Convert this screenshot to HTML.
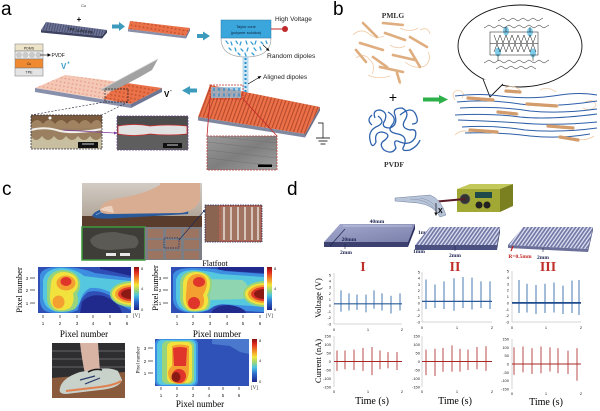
<!DOCTYPE html>
<html><head><meta charset="utf-8"><style>
html,body{margin:0;padding:0;background:#fff;}
svg{display:block;}
</style></head><body>
<svg width="600" height="411" viewBox="0 0 600 411" xmlns="http://www.w3.org/2000/svg" font-family="Liberation Sans, sans-serif">
<defs>
 <linearGradient id="cb" x1="0" y1="0" x2="0" y2="1">
  <stop offset="0" stop-color="#8a1010"/>
  <stop offset="0.12" stop-color="#e02a20"/>
  <stop offset="0.3" stop-color="#f39a2a"/>
  <stop offset="0.42" stop-color="#f4e63a"/>
  <stop offset="0.55" stop-color="#96d47c"/>
  <stop offset="0.66" stop-color="#4cc6e0"/>
  <stop offset="0.8" stop-color="#2f6fd0"/>
  <stop offset="1" stop-color="#1c2488"/>
 </linearGradient>
 <pattern id="ridgeO" width="3.6" height="10" patternUnits="userSpaceOnUse" patternTransform="rotate(20)">
  <rect width="3.6" height="10" fill="#ec7048"/>
  <rect width="1.1" height="10" fill="#b44a2c"/>
 </pattern>
 <pattern id="ridgeB" width="2.6" height="10" patternUnits="userSpaceOnUse" patternTransform="rotate(15)">
  <rect width="2.6" height="10" fill="#6c7396"/>
  <rect width="0.9" height="10" fill="#474d6c"/>
 </pattern>
 <pattern id="ridgeW" width="3" height="10" patternUnits="userSpaceOnUse" patternTransform="rotate(35)">
  <rect width="3" height="10" fill="#8e94bf"/>
  <rect width="0.9" height="10" fill="#eef0fa"/>
  <rect x="1.6" width="0.6" height="10" fill="#5a608a"/>
 </pattern>
 <pattern id="dotP" width="4" height="4" patternUnits="userSpaceOnUse" patternTransform="rotate(10)">
  <rect width="4" height="4" fill="#f5c8b6"/>
  <circle cx="2" cy="2" r="0.9" fill="#e6a08a"/>
 </pattern>
 <pattern id="dotO" width="4" height="4" patternUnits="userSpaceOnUse" patternTransform="rotate(10)">
  <rect width="4" height="4" fill="#ea7148"/>
  <circle cx="2" cy="2" r="0.9" fill="#c0502e"/>
 </pattern>
 <linearGradient id="slabI" x1="0" y1="0" x2="1" y2="1">
  <stop offset="0" stop-color="#a4a9cf"/><stop offset="1" stop-color="#7a80aa"/>
 </linearGradient>
 <linearGradient id="sem" x1="0" y1="0" x2="1" y2="1">
  <stop offset="0" stop-color="#9a9a9a"/><stop offset="0.5" stop-color="#7e7e7e"/><stop offset="1" stop-color="#a0a0a0"/>
 </linearGradient>
 <linearGradient id="wall" x1="0" y1="0" x2="0" y2="1">
  <stop offset="0" stop-color="#d2ccc4"/><stop offset="1" stop-color="#a89a8c"/>
 </linearGradient>
 <clipPath id="h1"><rect x="38" y="267" width="93" height="46"/></clipPath>
 <clipPath id="h2"><rect x="171" y="267" width="93" height="46"/></clipPath>
 <clipPath id="h3"><rect x="155" y="339" width="94" height="47"/></clipPath>
</defs>

<!-- ================= PANEL A ================= -->
<text x="1" y="15" font-size="19">a</text>
<text x="81" y="7" font-size="4" fill="#333">Cu</text>
<text x="79" y="22" font-size="8" font-weight="bold" text-anchor="middle">+</text>
<polygon points="46,22 107,30 102,36 41,30" fill="url(#ridgeB)"/>
<polygon points="41,30 102,36 102,38.5 41,32.5" fill="#3c4260"/>
<polygon points="102,36 107,30 107,32.5 102,38.5" fill="#2e334e"/>
<text x="80" y="32" font-size="4.2" fill="#111" text-anchor="middle" transform="rotate(7 80 32)">TPE substrate</text>
<polygon points="112,24.5 119,24.5 119,22 125,26.5 119,31 119,28.5 112,28.5" fill="#3c9bbd"/>
<polygon points="130,21 190,28 186,36 128,29" fill="url(#dotO)"/>
<polygon points="128,29 186,36 186,38.5 128,31.5" fill="#8a8fa8"/>
<polygon points="186,36 190,28 190,30.5 186,38.5" fill="#6f7590"/>
<polygon points="197,34 203,34 203,31.5 210,36 203,40.5 203,38 197,38" fill="#3c9bbd"/>
<path d="M221,38 L271,38 Q271,57 246,57 Q221,57 221,38 Z" fill="#fff" stroke="#999" stroke-width="0.6"/>
<rect x="221" y="20" width="50" height="18" fill="#3aa6dc" stroke="#2a7aa8" stroke-width="0.5"/>
<text x="246" y="28" font-size="3.8" text-anchor="middle" fill="#0d1f3a">Taylor cone</text>
<text x="246" y="34" font-size="3.8" text-anchor="middle" fill="#0d1f3a">(polymer solution)</text>
<g stroke="#3a9ed4" stroke-width="1.3" stroke-linecap="round">
 <line x1="226" y1="41" x2="228" y2="43.5"/><line x1="231" y1="42" x2="232" y2="45"/><line x1="236" y1="41" x2="237.5" y2="43.5"/>
 <line x1="241" y1="42" x2="240" y2="45"/><line x1="246" y1="41" x2="247" y2="44"/><line x1="251" y1="42" x2="253" y2="44.5"/>
 <line x1="256" y1="41" x2="255" y2="44"/><line x1="261" y1="42" x2="263" y2="44"/><line x1="266" y1="41" x2="267" y2="43.5"/>
 <line x1="229" y1="48" x2="231" y2="50"/><line x1="235" y1="48" x2="236" y2="51"/><line x1="241" y1="49" x2="243" y2="51"/>
 <line x1="248" y1="48" x2="247" y2="51"/><line x1="254" y1="48" x2="256" y2="50.5"/><line x1="260" y1="47" x2="261" y2="50"/>
 <line x1="238" y1="53" x2="240" y2="55"/><line x1="245" y1="53" x2="246" y2="56"/><line x1="252" y1="53" x2="254" y2="55"/>
</g>
<rect x="243" y="57" width="5" height="35" fill="#cfe8f4" stroke="#7ab8d8" stroke-width="0.5"/>
<line x1="245.5" y1="58" x2="245.5" y2="92" stroke="#2a8cc8" stroke-width="2" stroke-dasharray="2 2"/>
<line x1="271" y1="29" x2="283" y2="29" stroke="#c0282a" stroke-width="1"/>
<circle cx="285" cy="29" r="3" fill="#c0282a"/>
<text x="275" y="21" font-size="6.5" fill="#222">High Voltage</text>
<line x1="263" y1="45" x2="268" y2="49.5" stroke="#000" stroke-width="0.6"/>
<polygon points="269.5,51 266,50 268,47.8" fill="#000"/>
<text x="267" y="58" font-size="6.7" fill="#222">Random dipoles</text>
<line x1="248" y1="84" x2="259" y2="77.5" stroke="#000" stroke-width="0.6"/>
<polygon points="261.5,76 257.5,76.5 259,79" fill="#000"/>
<text x="263" y="79" font-size="6.5" fill="#222">Aligned dipoles</text>
<polygon points="210,85 320,107 305,134 198,117" fill="url(#ridgeO)"/>
<polygon points="198,117 305,134 305,137.5 198,120.5" fill="#8088a0"/>
<polygon points="305,134 320,107 320,110.5 305,137.5" fill="#6a7088"/>
<rect x="211" y="87" width="30" height="11" fill="#8fbfdc" opacity="0.75"/>
<g stroke="#3a8cc8" stroke-width="1.4">
 <line x1="214" y1="88" x2="214" y2="91"/><line x1="219" y1="88" x2="219" y2="91"/><line x1="224" y1="88" x2="224" y2="91"/><line x1="229" y1="88" x2="229" y2="91"/><line x1="234" y1="88" x2="234" y2="91"/><line x1="239" y1="88" x2="239" y2="91"/>
 <line x1="214" y1="93.5" x2="214" y2="96.5"/><line x1="219" y1="93.5" x2="219" y2="96.5"/><line x1="224" y1="93.5" x2="224" y2="96.5"/><line x1="229" y1="93.5" x2="229" y2="96.5"/><line x1="234" y1="93.5" x2="234" y2="96.5"/><line x1="239" y1="93.5" x2="239" y2="96.5"/>
</g>
<rect x="210" y="85" width="33" height="14" fill="none" stroke="#c0282a" stroke-width="0.8" stroke-dasharray="2 1"/>
<line x1="210" y1="99" x2="207" y2="136" stroke="#c0282a" stroke-width="0.8"/>
<line x1="243" y1="99" x2="277" y2="136" stroke="#c0282a" stroke-width="0.8"/>
<rect x="207" y="136" width="70" height="34" fill="url(#sem)"/>
<g stroke="#6a6a6a" stroke-width="0.5" opacity="0.7">
 <line x1="207" y1="142" x2="277" y2="150"/><line x1="207" y1="150" x2="277" y2="158"/><line x1="207" y1="158" x2="277" y2="166"/><line x1="220" y1="137" x2="277" y2="143"/>
</g>
<rect x="207" y="136" width="70" height="34" fill="none" stroke="#c04040" stroke-width="0.8" stroke-dasharray="2 1"/>
<rect x="258" y="164.5" width="14" height="2.5" fill="#000"/>
<polyline points="318,123 323,123 323,138" fill="none" stroke="#000" stroke-width="0.7"/>
<line x1="316" y1="138" x2="330" y2="138" stroke="#000" stroke-width="0.8"/>
<line x1="318.5" y1="141" x2="327.5" y2="141" stroke="#000" stroke-width="0.8"/>
<line x1="320.5" y1="144" x2="325.5" y2="144" stroke="#000" stroke-width="0.8"/>
<polygon points="197,88.5 190,88.5 190,86 182,90.5 190,95 190,92.5 197,92.5" fill="#3c9bbd"/>
<text x="164" y="97" font-size="8" font-weight="bold">V</text>
<text x="170" y="92" font-size="5" font-weight="bold">-</text>
<rect x="15" y="44" width="28" height="7" fill="#ece3c8" stroke="#777" stroke-width="0.5"/>
<text x="29" y="49.5" font-size="3.6" text-anchor="middle" fill="#222">PDMS</text>
<rect x="15" y="51" width="28" height="8" fill="#ececec" stroke="#777" stroke-width="0.5"/>
<circle cx="19" cy="55" r="3" fill="#cacaca"/><circle cx="25.5" cy="55" r="3" fill="#cacaca"/><circle cx="32" cy="55" r="3" fill="#cacaca"/><circle cx="38.5" cy="55" r="3" fill="#cacaca"/>
<rect x="15" y="59" width="28" height="9" fill="#f08a30" stroke="#777" stroke-width="0.5"/>
<text x="29" y="65" font-size="3.6" text-anchor="middle" fill="#222">Cu</text>
<rect x="15" y="68" width="28" height="8" fill="#e4e4e4" stroke="#777" stroke-width="0.5"/>
<text x="29" y="73.5" font-size="3.6" text-anchor="middle" fill="#222">TPE</text>
<line x1="40" y1="55" x2="48" y2="55" stroke="#000" stroke-width="0.6"/>
<polygon points="51,55 47.5,53.3 47.5,56.7" fill="#000"/>
<text x="51.5" y="57" font-size="5" fill="#111">PVDF</text>
<text x="61" y="69" font-size="8" font-weight="bold" fill="#3a9ad0">V</text>
<text x="67" y="64.5" font-size="5" font-weight="bold" fill="#3a9ad0">+</text>
<polygon points="35,88 65,75 120,82 103,99" fill="url(#dotP)"/>
<polygon points="120,82 162,88 131,104 103,99" fill="url(#dotO)"/>
<polygon points="35,88 131,104 131,108 35,92" fill="#8890ac"/>
<polygon points="131,104 162,88 162,92 131,108" fill="#6f7694"/>
<path d="M100,90 Q126,76 158,59 L152,70 Q132,82 112,91 Z" fill="#a2a2a2"/>
<path d="M100,90 Q126,76 158,59" fill="none" stroke="#cfcfcf" stroke-width="0.8"/>
<rect x="105" y="89" width="23" height="13" fill="none" stroke="#222" stroke-width="0.7" stroke-dasharray="2 1"/>
<line x1="105" y1="102" x2="31" y2="115" stroke="#223" stroke-width="0.6" stroke-dasharray="2 1.5"/>
<line x1="128" y1="102" x2="102" y2="115" stroke="#223" stroke-width="0.6" stroke-dasharray="2 1.5"/>
<rect x="31" y="115" width="71" height="34" fill="#9a8060"/>
<rect x="31" y="115" width="71" height="12" fill="#7a5a3c"/>
<path d="M31,124 Q37,116 43,124 Q49,116 55,124 Q61,116 67,124 Q73,116 79,124 Q85,116 91,124 Q97,116 102,124 L102,128 L31,128 Z" fill="#a08462"/>
<path d="M31,130 Q45,126 60,131 Q75,134 102,129" fill="none" stroke="#f2f0ea" stroke-width="2"/>
<path d="M31,136 Q36,144 42,136 Q48,144 54,136 Q60,144 66,136 Q72,144 78,136 Q84,144 90,136 Q96,144 102,136 L102,149 L31,149 Z" fill="#c8bea0"/>
<circle cx="50" cy="118" r="1.5" fill="#fff"/>
<rect x="78" y="142" width="20" height="6" fill="#111"/>
<line x1="82" y1="144" x2="94" y2="144" stroke="#fff" stroke-width="0.8"/>
<rect x="31" y="115" width="71" height="34" fill="none" stroke="#334" stroke-width="0.8" stroke-dasharray="2 1"/>
<line x1="63" y1="130" x2="115" y2="133" stroke="#7a3aa0" stroke-width="0.8"/>
<polygon points="117.5,133 114,131.5 114,134.5" fill="#7a3aa0"/>
<rect x="117" y="116" width="71" height="34" fill="#4c4c4c"/>
<rect x="117" y="135" width="71" height="15" fill="#5e5e5e"/>
<path d="M118,126 Q135,123 150,126 Q168,124 187,126 L187,134 Q168,136 150,134 Q135,137 118,134 Z" fill="#e2e2e2" stroke="#d03030" stroke-width="0.8"/>
<rect x="163" y="143" width="19" height="5" fill="#111"/>
<line x1="167" y1="145" x2="178" y2="145" stroke="#fff" stroke-width="0.8"/>
<rect x="117" y="116" width="71" height="34" fill="none" stroke="#6a4a8a" stroke-width="0.8" stroke-dasharray="2 1"/>

<!-- ================= PANEL B ================= -->
<text x="333" y="15" font-size="19">b</text>
<text x="393" y="18" font-size="7.5" font-weight="bold" font-family="Liberation Serif, serif" text-anchor="middle" fill="#333">PMLG</text>
<g fill="none" stroke="#f0cba6" stroke-width="0.8">
 <path d="M353,35 Q360,28 368,33 Q375,40 384,36"/><path d="M356,58 Q364,52 370,60 Q376,66 372,74"/>
 <path d="M405,62 Q415,70 425,66 Q432,60 428,52"/><path d="M390,45 Q398,50 405,46"/><path d="M420,30 Q428,26 430,34"/>
 <path d="M368,75 Q378,80 390,76"/><path d="M400,28 Q410,33 418,28"/>
</g>
<g stroke-linecap="round">
 <g stroke="#f3d2b0" stroke-width="2.6">
  <line x1="363" y1="23" x2="377" y2="37"/><line x1="383" y1="23" x2="403" y2="25"/><line x1="360" y1="43" x2="383" y2="50"/>
  <line x1="410" y1="37" x2="427" y2="47"/><line x1="380" y1="67" x2="403" y2="72"/><line x1="373" y1="57" x2="387" y2="67"/>
  <line x1="410" y1="50" x2="420" y2="67"/><line x1="397" y1="73" x2="400" y2="83"/><line x1="385" y1="33" x2="405" y2="40"/>
  <line x1="393" y1="55" x2="415" y2="60"/><line x1="356" y1="50" x2="366" y2="62"/>
 </g>
 <g stroke="#dfae80" stroke-width="2.6" stroke-dasharray="0.7 1.4">
  <line x1="363" y1="23" x2="377" y2="37"/><line x1="383" y1="23" x2="403" y2="25"/><line x1="360" y1="43" x2="383" y2="50"/>
  <line x1="410" y1="37" x2="427" y2="47"/><line x1="380" y1="67" x2="403" y2="72"/><line x1="373" y1="57" x2="387" y2="67"/>
  <line x1="410" y1="50" x2="420" y2="67"/><line x1="397" y1="73" x2="400" y2="83"/><line x1="385" y1="33" x2="405" y2="40"/>
  <line x1="393" y1="55" x2="415" y2="60"/><line x1="356" y1="50" x2="366" y2="62"/>
 </g>
</g>
<text x="393" y="102" font-size="14" text-anchor="middle">+</text>
<g fill="none" stroke="#2e62ad" stroke-width="1.3" stroke-linejoin="round">
 <path d="M375,118 Q372,110 380,110 Q388,112 385,120 Q380,128 390,128 Q398,125 395,115 Q392,108 402,108 Q410,112 405,120 Q400,128 410,130 Q418,128 415,138 Q410,146 400,142 Q392,138 396,148 Q392,155 384,150 Q378,144 385,140 Q392,134 382,132 Q374,132 376,142 Q372,150 370,140 Q368,130 378,126 Q386,122 378,116"/>
 <path d="M388,112 Q398,118 392,125 Q386,132 398,134 Q408,136 404,146 Q400,152 410,150 Q418,146 420,140"/>
 <path d="M372,125 Q366,120 372,115 M400,115 Q412,105 416,115 Q420,124 412,124"/>
</g>
<text x="394" y="167" font-size="7.5" font-weight="bold" font-family="Liberation Serif, serif" text-anchor="middle" fill="#333">PVDF</text>
<polygon points="423,97.5 439,97.5 439,95 448,99.5 439,104 439,101.5 423,101.5" fill="#2db04a"/>
<ellipse cx="520" cy="46" rx="62" ry="41" fill="#fff" stroke="#111" stroke-width="0.9"/>
<path d="M483,79 L490,97 L503,84" fill="#fff" stroke="#111" stroke-width="0.9"/>
<ellipse cx="506" cy="31" rx="3" ry="4.5" fill="#7ecbea"/>
<ellipse cx="530" cy="32" rx="3" ry="4.5" fill="#7ecbea"/>
<ellipse cx="498" cy="52" rx="3" ry="4.5" fill="#7ecbea"/>
<ellipse cx="533" cy="53" rx="3" ry="4.5" fill="#7ecbea"/>
<g fill="none" stroke="#111" stroke-width="0.5">
 <polyline points="484,28 489,25 494,28 499,25 504,28 509,25 514,28 519,25 524,28 529,25 534,28 539,25 544,28 549,25"/>
 <polyline points="498,21 503,18 508,21 513,18 518,21 523,18 528,21 533,18 538,21 543,18"/>
 <rect x="490" y="32" width="48" height="23"/>
 <line x1="490" y1="43.5" x2="538" y2="43.5"/>
 <polyline points="494,35 497,43 500,35 503,43 506,35 509,43 512,35 515,43 518,35 521,43 524,35 527,43 530,35 533,43 536,35"/>
 <polyline points="494,52 497,44 500,52 503,44 506,52 509,44 512,52 515,44 518,52 521,44 524,52 527,44 530,52 533,44 536,52"/>
 <polyline points="484,63 489,60 494,63 499,60 504,63 509,60 514,63 519,60 524,63 529,60 534,63 539,60 544,63 549,60"/>
 <polyline points="496,69 501,66 506,69 511,66 516,69 521,66 526,69 531,66 536,69"/>
 <line x1="506" y1="27" x2="506" y2="32"/><line x1="530" y1="27" x2="530" y2="32"/><line x1="498" y1="55" x2="498" y2="61"/><line x1="533" y1="55" x2="533" y2="61"/>
</g>
<g fill="none" stroke="#f0cba6" stroke-width="0.8">
 <path d="M455,100 Q450,92 458,90 Q466,92 462,98"/><path d="M455,135 Q462,128 472,133"/>
 <path d="M585,102 Q595,98 596,106 Q590,112 583,108"/><path d="M575,138 Q585,142 594,136"/>
 <path d="M505,88 Q512,84 520,90"/><path d="M540,90 Q548,86 556,92"/>
</g>
<g fill="none" stroke="#2e5fa8" stroke-width="1">
 <path d="M455,96 Q480,93 500,96 Q530,100 560,95 Q580,92 597,95"/>
 <path d="M457,102 Q490,99 520,104 Q550,108 597,101"/>
 <path d="M460,108 Q500,106 530,111 Q560,114 597,109"/>
 <path d="M455,115 Q490,113 520,117 Q550,120 597,114"/>
 <path d="M458,120 Q490,121 520,123 Q555,126 597,122"/>
 <path d="M462,127 Q495,125 525,130 Q560,133 597,128"/>
 <path d="M465,133 Q500,132 530,136 Q560,139 590,134"/>
</g>
<g stroke-linecap="round">
 <g stroke="#efcca8" stroke-width="3.2">
  <line x1="468" y1="98" x2="493" y2="100"/><line x1="527" y1="104" x2="557" y2="106"/><line x1="498" y1="112" x2="517" y2="114"/>
  <line x1="470" y1="130" x2="497" y2="132"/><line x1="548" y1="126" x2="573" y2="128"/><line x1="506" y1="91" x2="520" y2="92"/><line x1="560" y1="137" x2="578" y2="140"/>
 </g>
 <g stroke="#d39c6c" stroke-width="3.2" stroke-dasharray="0.7 1.5">
  <line x1="468" y1="98" x2="493" y2="100"/><line x1="527" y1="104" x2="557" y2="106"/><line x1="498" y1="112" x2="517" y2="114"/>
  <line x1="470" y1="130" x2="497" y2="132"/><line x1="548" y1="126" x2="573" y2="128"/><line x1="506" y1="91" x2="520" y2="92"/><line x1="560" y1="137" x2="578" y2="140"/>
 </g>
</g>

<!-- ================= PANEL C ================= -->
<text x="2" y="195" font-size="19">c</text>
<rect x="82" y="183" width="120" height="44" fill="url(#wall)"/>
<rect x="82" y="216" width="120" height="11" fill="#5a3c2c"/>
<path d="M92,216 Q95,208 120,207 L180,205 Q190,206 188,214 L120,218 Q95,220 92,216 Z" fill="#2a5a9a"/>
<path d="M96,215 Q100,211 120,210 L182,208" fill="none" stroke="#7aa8d8" stroke-width="0.8"/>
<path d="M100,210 Q100,201 120,198 Q145,194 160,185 L160,183 L200,183 L200,200 Q195,212 180,213 L110,214 Q100,214 100,210 Z" fill="#d9ad92"/>
<path d="M100,210 Q104,206 112,206 L114,213" fill="#ecd2c0"/>
<rect x="82" y="227" width="63" height="33" fill="#3e3d38" stroke="#3c9a3c" stroke-width="1.5"/>
<path d="M90,240 Q95,232 115,232 L135,236 Q142,242 135,248 L110,250 Q92,250 90,240 Z" fill="#5c5a54"/>
<rect x="106" y="253" width="10" height="3" fill="#e8e8e8"/><rect x="120" y="253" width="10" height="3" fill="#e8e8e8"/>
<rect x="145" y="227" width="57" height="33" fill="#7c7e84"/>
<g fill="#9c7462">
 <rect x="148" y="229" width="15" height="9"/><rect x="166" y="229" width="15" height="9"/><rect x="184" y="229" width="15" height="9"/>
 <rect x="148" y="240" width="15" height="9"/><rect x="166" y="240" width="15" height="9"/><rect x="184" y="240" width="15" height="9"/>
 <rect x="148" y="251" width="15" height="8"/><rect x="166" y="251" width="15" height="8"/><rect x="184" y="251" width="15" height="8"/>
</g>
<rect x="164" y="238" width="15" height="10" fill="none" stroke="#1a2a5a" stroke-width="0.7" stroke-dasharray="1.5 1"/>
<line x1="179" y1="240" x2="204" y2="211" stroke="#1a2a5a" stroke-width="0.6"/>
<circle cx="204" cy="211" r="1" fill="#1a2a5a"/>
<rect x="205" y="205" width="57" height="37" fill="#a07460"/>
<rect x="205" y="205" width="14" height="37" fill="#8a6450"/>
<g stroke="#f4f0ec" stroke-width="1.3">
 <line x1="224" y1="207" x2="224" y2="240"/><line x1="231" y1="207" x2="231" y2="240"/><line x1="238" y1="207" x2="238" y2="240"/>
 <line x1="245" y1="207" x2="245" y2="240"/><line x1="252" y1="207" x2="252" y2="240"/><line x1="258" y1="207" x2="258" y2="240"/>
</g>
<rect x="220" y="206" width="41" height="35" fill="none" stroke="#d03030" stroke-width="0.7" stroke-dasharray="1.5 1"/>
<rect x="205" y="205" width="57" height="37" fill="none" stroke="#1a2a5a" stroke-width="0.8" stroke-dasharray="1.5 1"/>

<!-- heatmap 1 -->
<g clip-path="url(#h1)">
 <rect x="38" y="267" width="93" height="46" fill="#2f4fb6"/>
 <path d="M80,313 L82,302 Q90,293 104,296 Q114,300 120,308 L122,313 Z" fill="#202a8c"/>
 <path d="M100,267 L131,267 L131,276 Q115,272 100,269 Z" fill="#202a8c"/>
 <path d="M40,275 Q42,267 60,267 Q80,267 95,273 L131,278 L131,310 Q120,306 112,297 Q100,289 88,292 Q80,298 78,310 Q70,314 55,313 Q40,313 40,300 Z" fill="#3d8ee0"/>
 <path d="M43,280 Q46,268 62,268 Q76,269 84,276 L100,278 L131,281 L131,305 Q118,300 110,292 Q100,287 90,288 Q82,292 80,302 Q76,312 60,312 Q45,311 43,298 Z" fill="#55c8e0"/>
 <path d="M47,282 Q50,270 63,270 Q78,271 80,282 Q81,289 77,294 Q80,302 75,309 Q66,313 55,311 Q46,307 47,295 Z" fill="#98d47c"/>
 <ellipse cx="132" cy="294" rx="22" ry="13" fill="#98d47c"/>
 <path d="M51,283 Q53,272 64,272 Q77,273 78,283 Q78,290 73,293 Q75,302 70,308 Q62,312 55,309 Q49,304 50,294 Z" fill="#f2e23e"/>
 <ellipse cx="132" cy="294" rx="20" ry="11" fill="#f2e23e"/>
 <ellipse cx="66" cy="283" rx="9.5" ry="7.5" fill="#f3a030"/>
 <ellipse cx="58.5" cy="302" rx="6" ry="6.5" fill="#f3a030"/>
 <ellipse cx="132" cy="294" rx="17" ry="9" fill="#f3a030"/>
 <ellipse cx="66" cy="281.5" rx="5.5" ry="4.5" fill="#e0352a"/>
 <ellipse cx="132" cy="294" rx="14" ry="7" fill="#e0352a"/>
 <ellipse cx="131" cy="294" rx="10" ry="5" fill="#8c1a14"/>
</g>
<rect x="134" y="267" width="5" height="43" fill="url(#cb)"/>
<g font-size="4" fill="#222">
 <text x="141" y="270">8</text><text x="141" y="290">4</text><text x="141" y="311">0</text>
</g>
<text x="133" y="317" font-size="5" fill="#222" font-family="Liberation Serif, serif">[V]</text>
<g stroke="#222" stroke-width="0.7">
 <line x1="30" y1="278" x2="35" y2="278"/><line x1="30" y1="290" x2="35" y2="290"/><line x1="30" y1="303" x2="35" y2="303"/>
 <line x1="43" y1="315" x2="43" y2="318"/><line x1="60" y1="315" x2="60" y2="318"/><line x1="77" y1="315" x2="77" y2="318"/><line x1="93" y1="315" x2="93" y2="318"/><line x1="110" y1="315" x2="110" y2="318"/><line x1="127" y1="315" x2="127" y2="318"/>
</g>
<g font-size="4.5" fill="#222" text-anchor="middle">
 <text x="27" y="280">3</text><text x="27" y="292">2</text><text x="27" y="305">1</text>
 <text x="43" y="325">1</text><text x="60" y="325">2</text><text x="77" y="325">3</text><text x="93" y="325">4</text><text x="110" y="325">5</text><text x="127" y="325">6</text>
</g>
<text x="84" y="337" font-size="9" font-family="Liberation Serif, serif" text-anchor="middle">Pixel number</text>
<text transform="translate(22,290) rotate(-90)" font-size="8.5" font-family="Liberation Serif, serif" text-anchor="middle">Pixel number</text>

<!-- heatmap 2 -->
<text x="215" y="266" font-size="8" font-family="Liberation Serif, serif" text-anchor="middle">Flatfoot</text>
<g clip-path="url(#h2)">
 <rect x="171" y="267" width="93" height="46" fill="#2f4fb6"/>
 <path d="M218,267 L264,267 L264,273 Q240,272 218,270 Z" fill="#202a8c"/>
 <path d="M211,313 Q215,305 230,305 Q242,306 246,313 Z" fill="#202a8c"/>
 <path d="M173,275 Q175,268 192,268 Q215,268 225,271 L264,274 L264,312 L246,311 Q235,303 215,305 Q210,312 195,313 Q174,313 173,300 Z" fill="#3d8ee0"/>
 <path d="M176,280 Q178,270 194,270 Q210,271 220,274 L264,277 L264,307 Q240,305 222,304 Q212,306 208,310 Q198,313 186,311 Q176,308 176,296 Z" fill="#55c8e0"/>
 <path d="M205,279 L242,280 Q250,285 248,292 L244,299 L208,300 Z" fill="#8fd6b0"/>
 <path d="M180,282 Q182,271 195,271 Q210,272 212,281 Q212,290 209,295 Q212,303 208,309 Q198,313 188,311 Q179,306 180,295 Z" fill="#98d47c"/>
 <ellipse cx="265" cy="294" rx="22" ry="13" fill="#98d47c"/>
 <path d="M183,283 Q185,272 197,272 Q209,273 210,283 Q210,290 207,295 Q210,303 205,309 Q196,312 189,310 Q182,305 183,295 Z" fill="#f2e23e"/>
 <ellipse cx="265" cy="294" rx="20" ry="11" fill="#f2e23e"/>
 <path d="M187,283 Q189,274 198,274 Q207,275 207,284 Q206,291 203,295 Q206,303 201,308 Q193,311 189,308 Q185,303 186,295 Z" fill="#f3a030"/>
 <ellipse cx="265" cy="294" rx="17" ry="9" fill="#f3a030"/>
 <ellipse cx="199" cy="282" rx="6" ry="5" fill="#e0352a"/>
 <ellipse cx="194" cy="303" rx="6" ry="6" fill="#e0352a"/>
 <ellipse cx="265" cy="294" rx="14" ry="7" fill="#e0352a"/>
 <ellipse cx="264" cy="294" rx="10" ry="5" fill="#8c1a14"/>
</g>
<rect x="267" y="267" width="5" height="43" fill="url(#cb)"/>
<g font-size="4" fill="#222">
 <text x="274" y="270">8</text><text x="274" y="290">4</text><text x="274" y="311">0</text>
</g>
<text x="266" y="317" font-size="5" fill="#222" font-family="Liberation Serif, serif">[V]</text>
<g stroke="#222" stroke-width="0.7">
 <line x1="163" y1="278" x2="168" y2="278"/><line x1="163" y1="290" x2="168" y2="290"/><line x1="163" y1="303" x2="168" y2="303"/>
 <line x1="177" y1="315" x2="177" y2="318"/><line x1="193" y1="315" x2="193" y2="318"/><line x1="210" y1="315" x2="210" y2="318"/><line x1="227" y1="315" x2="227" y2="318"/><line x1="243" y1="315" x2="243" y2="318"/><line x1="260" y1="315" x2="260" y2="318"/>
</g>
<g font-size="4.5" fill="#222" text-anchor="middle">
 <text x="160" y="280">3</text><text x="160" y="292">2</text><text x="160" y="305">1</text>
 <text x="177" y="325">1</text><text x="193" y="325">2</text><text x="210" y="325">3</text><text x="227" y="325">4</text><text x="243" y="325">5</text><text x="260" y="325">6</text>
</g>
<text x="217" y="337" font-size="9" font-family="Liberation Serif, serif" text-anchor="middle">Pixel number</text>
<text transform="translate(158,288) rotate(-90)" font-size="8.5" font-family="Liberation Serif, serif" text-anchor="middle">Pixel number</text>

<!-- shoe photo -->
<rect x="52" y="343" width="73" height="55" fill="#2e2e30"/>
<g fill="#4a4a4c"><rect x="52" y="350" width="73" height="2"/><rect x="52" y="358" width="73" height="2"/><rect x="52" y="366" width="73" height="2"/></g>
<polygon points="52,378 125,372 125,398 52,398" fill="#8a5a3c"/>
<path d="M80,343 L98,343 L100,372 L85,374 Q82,360 80,343 Z" fill="#d8b4a4"/>
<path d="M60,388 Q62,378 80,372 L98,369 Q110,367 118,371 L122,380 Q120,388 100,390 L66,394 Q58,394 60,388 Z" fill="#c9d1cb"/>
<path d="M66,391 L100,387 Q115,385 121,381" fill="none" stroke="#e0804e" stroke-width="2"/>
<path d="M80,380 L95,376 M85,384 L100,378" stroke="#2a3a6a" stroke-width="1.2"/>
<path d="M88,372 Q95,368 102,370" fill="none" stroke="#1a1a1a" stroke-width="1.5"/>

<!-- heatmap 3 -->
<g clip-path="url(#h3)">
 <rect x="155" y="339" width="94" height="47" fill="#2f52b8"/>
 <path d="M212,339 L249,339 L249,354 L240,352 L230,346 L212,344 Z" fill="#4a78cc"/>
 <rect x="155" y="339" width="43" height="47" rx="5" fill="#3d8ee0"/>
 <rect x="157" y="340" width="39" height="45" rx="5" fill="#55c8e0"/>
 <rect x="162" y="341" width="32" height="43" rx="5" fill="#98d47c"/>
 <rect x="167" y="342" width="25" height="41" rx="5" fill="#f2e23e"/>
 <path d="M172,346 Q180,343 189,346 L189,367 Q189,384 180,384 Q168,384 168,372 Q170,367 172,366 Z" fill="#f3a030"/>
 <path d="M173,348 Q180,346 187,348 L186,366 L174,366 Z" fill="#e0352a"/>
 <ellipse cx="179" cy="376" rx="7" ry="7" fill="#e0352a"/>
 <ellipse cx="176" cy="377" rx="4.5" ry="5" fill="#8c1a14"/>
</g>
<rect x="252" y="339" width="5" height="43" fill="url(#cb)"/>
<g font-size="4" fill="#222">
 <text x="259" y="342">8</text><text x="259" y="362">4</text><text x="259" y="383">0</text>
</g>
<text x="251" y="389" font-size="5" fill="#222" font-family="Liberation Serif, serif">[V]</text>
<g stroke="#222" stroke-width="0.7">
 <line x1="148" y1="348" x2="153" y2="348"/><line x1="148" y1="361" x2="153" y2="361"/><line x1="148" y1="373" x2="153" y2="373"/>
 <line x1="161" y1="387" x2="161" y2="390"/><line x1="177" y1="387" x2="177" y2="390"/><line x1="193" y1="387" x2="193" y2="390"/><line x1="209" y1="387" x2="209" y2="390"/><line x1="223" y1="387" x2="223" y2="390"/><line x1="239" y1="387" x2="239" y2="390"/>
</g>
<g font-size="4.5" fill="#222" text-anchor="middle">
 <text x="145" y="350">3</text><text x="145" y="363">2</text><text x="145" y="375">1</text>
 <text x="161" y="397">1</text><text x="177" y="397">2</text><text x="193" y="397">3</text><text x="209" y="397">4</text><text x="223" y="397">5</text><text x="239" y="397">6</text>
</g>
<text x="200" y="407" font-size="9" font-family="Liberation Serif, serif" text-anchor="middle">Pixel number</text>
<text transform="translate(139.5,360) rotate(-90)" font-size="5" font-family="Liberation Serif, serif" text-anchor="middle">Pixel number</text>

<!-- ================= PANEL D ================= -->
<text x="287" y="195" font-size="19">d</text>
<polygon points="457,189 470,184 513,184 500,189" fill="#c2c85a"/>
<polygon points="500,189 513,184 513,206 500,212" fill="#7a8020"/>
<rect x="457" y="189" width="43" height="23" fill="#a2a834"/>
<rect x="475" y="192" width="17" height="6" fill="#1f4a4a"/>
<circle cx="479" cy="205" r="3.5" fill="#222"/><circle cx="487" cy="205" r="3.5" fill="#222"/>
<circle cx="465" cy="199" r="5" fill="#333" stroke="#666" stroke-width="0.6"/>
<line x1="432" y1="202" x2="465" y2="199" stroke="#5a1a28" stroke-width="2"/>
<path d="M395,198 L430,195 Q441,199 446,215 L440,217 Q434,205 418,203 L395,201 Z" fill="#b8c4d8" stroke="#7080a0" stroke-width="0.5"/>
<path d="M410,199 Q430,199 438,214 M420,198 Q434,200 442,215" fill="none" stroke="#7080a0" stroke-width="0.4"/>
<line x1="436" y1="203" x2="436" y2="213" stroke="#111" stroke-width="0.7"/>
<polygon points="436,216 434.3,212.5 437.7,212.5" fill="#111"/>
<text x="438" y="213" font-size="7" font-weight="bold">X</text>
<polygon points="340,224 415,224 408,242 324,242" fill="url(#slabI)"/>
<polygon points="324,242 408,242 408,247 324,247" fill="#3c4170"/>
<polygon points="408,242 415,224 415,229 408,247" fill="#2c3060"/>
<line x1="343" y1="226" x2="412" y2="226" stroke="#e8ecf8" stroke-width="0.5"/>
<line x1="330" y1="246" x2="345" y2="229" stroke="#1a2050" stroke-width="0.6"/>
<g font-family="Liberation Serif, serif" font-weight="bold" fill="#1a2050" font-size="5.5" text-anchor="middle">
 <text x="377" y="223">40mm</text>
 <text x="349" y="241">20mm</text>
 <text x="346" y="254">2mm</text>
 <text x="424" y="234">1mm</text>
 <text x="419" y="253">1mm</text>
 <text x="455" y="257">2mm</text>
 <text x="543" y="259">2mm</text>
</g>
<line x1="345" y1="244" x2="345" y2="249" stroke="#1a2050" stroke-width="0.6"/>
<polygon points="430,227 500,227 497,245 415,245" fill="url(#ridgeW)"/>
<polygon points="415,245 497,245 497,250 415,250" fill="#4a5080"/>
<polygon points="497,245 500,227 500,232 497,250" fill="#3a4070"/>
<line x1="455" y1="246" x2="455" y2="251" stroke="#1a2050" stroke-width="0.6"/>
<polygon points="523,227 593,227 588,249 508,245" fill="url(#ridgeW)"/>
<polygon points="508,245 588,249 588,252 508,248" fill="#6a709a"/>
<polygon points="588,249 593,227 593,230 588,252" fill="#4a5080"/>
<line x1="543" y1="248" x2="543" y2="252" stroke="#1a2050" stroke-width="0.6"/>
<line x1="513" y1="246" x2="511" y2="251" stroke="#c02020" stroke-width="1.2"/>
<text x="520" y="258" font-family="Liberation Serif, serif" font-weight="bold" fill="#c02020" font-size="5.5" text-anchor="middle">R=0.5mm</text>
<g font-family="Liberation Serif, serif" font-weight="bold" fill="#c0302a" font-size="14" text-anchor="middle">
 <text x="363" y="271">I</text><text x="455" y="271">II</text><text x="548" y="271">III</text>
</g>

<g stroke="#aaa" stroke-width="0.5">
 <line x1="334" y1="273" x2="334" y2="324"/><line x1="334" y1="324" x2="402" y2="324"/>
 <line x1="422" y1="272" x2="422" y2="322"/><line x1="422" y1="322" x2="492" y2="322"/>
 <line x1="512" y1="271" x2="512" y2="322"/><line x1="512" y1="322" x2="581" y2="322"/>
 <line x1="334" y1="336" x2="334" y2="387"/>
 <line x1="422" y1="336" x2="422" y2="387"/>
 <line x1="512" y1="339" x2="512" y2="389"/>
</g>
<g font-size="4" fill="#222" text-anchor="end">
 <text x="331" y="276.5">5</text><text x="331" y="282.6">4</text><text x="331" y="288.7">3</text><text x="331" y="294.8">2</text><text x="331" y="301">1</text><text x="331" y="307">0</text><text x="331" y="313">-1</text><text x="331" y="319">-2</text><text x="331" y="325.5">-3</text>
 <text x="420" y="273.5">5</text><text x="420" y="279.7">4</text><text x="420" y="286">3</text><text x="420" y="292.2">2</text><text x="420" y="298.5">1</text><text x="420" y="304.7">0</text><text x="420" y="311">-1</text><text x="420" y="317.2">-2</text><text x="420" y="323.5">-3</text>
 <text x="509" y="272.5">5</text><text x="509" y="278.9">4</text><text x="509" y="285.3">3</text><text x="509" y="291.6">2</text><text x="509" y="298">1</text><text x="509" y="304.4">0</text><text x="509" y="310.8">-1</text><text x="509" y="317.1">-2</text><text x="509" y="323.5">-3</text>
 <text x="331" y="337.5">150</text><text x="331" y="346">100</text><text x="331" y="354.5">50</text><text x="331" y="363">0</text><text x="331" y="371.5">-50</text><text x="331" y="380">-100</text><text x="331" y="388.5">-150</text>
 <text x="420" y="337.5">150</text><text x="420" y="346">100</text><text x="420" y="354.5">50</text><text x="420" y="363">0</text><text x="420" y="371.5">-50</text><text x="420" y="380">-100</text><text x="420" y="388.5">-150</text>
 <text x="509" y="340.5">150</text><text x="509" y="348.8">100</text><text x="509" y="357.2">50</text><text x="509" y="365.5">0</text><text x="509" y="373.8">-50</text><text x="509" y="382.2">-100</text><text x="509" y="390.5">-150</text>
</g>
<g font-size="4" fill="#222" text-anchor="middle">
 <text x="334" y="331">0</text><text x="368" y="331">1</text><text x="402" y="331">2</text>
 <text x="422" y="329">0</text><text x="457" y="329">1</text><text x="492" y="329">2</text>
 <text x="512" y="329">0</text><text x="546" y="329">1</text><text x="581" y="329">2</text>
 <text x="334" y="393">0</text><text x="368" y="393">1</text><text x="402" y="393">2</text>
 <text x="422" y="393">0</text><text x="457" y="393">1</text><text x="492" y="393">2</text>
 <text x="512" y="395">0</text><text x="546" y="395">1</text><text x="581" y="395">2</text>
</g>
<g stroke="#8db4da" stroke-width="1.2">
 <line x1="341" y1="290.4" x2="341" y2="311.7"/><line x1="349" y1="293.4" x2="349" y2="310.5"/><line x1="357" y1="294.6" x2="357" y2="309.9"/><line x1="366" y1="294.6" x2="366" y2="312.3"/>
 <line x1="374" y1="290.4" x2="374" y2="308.7"/><line x1="382" y1="293.4" x2="382" y2="310.5"/><line x1="391" y1="295.8" x2="391" y2="313.5"/><line x1="400" y1="293.4" x2="400" y2="310.5"/>
</g>
<g stroke="#2a5a9a" stroke-width="0.5">
 <line x1="341" y1="290.4" x2="341" y2="311.7"/><line x1="349" y1="293.4" x2="349" y2="310.5"/><line x1="357" y1="294.6" x2="357" y2="309.9"/><line x1="366" y1="294.6" x2="366" y2="312.3"/>
 <line x1="374" y1="290.4" x2="374" y2="308.7"/><line x1="382" y1="293.4" x2="382" y2="310.5"/><line x1="391" y1="295.8" x2="391" y2="313.5"/><line x1="400" y1="293.4" x2="400" y2="310.5"/>
</g>
<line x1="334" y1="303.8" x2="402" y2="303.8" stroke="#2a5a9a" stroke-width="1.2"/>
<g stroke="#8db4da" stroke-width="1.2">
 <line x1="426" y1="279.5" x2="426" y2="309"/><line x1="435" y1="284.5" x2="435" y2="308"/><line x1="444" y1="281.4" x2="444" y2="309"/><line x1="454" y1="278.3" x2="454" y2="310.8"/>
 <line x1="463" y1="277" x2="463" y2="308"/><line x1="472" y1="277.6" x2="472" y2="309.5"/><line x1="481" y1="281.4" x2="481" y2="308"/><line x1="490" y1="281.4" x2="490" y2="309"/>
</g>
<g stroke="#2a5a9a" stroke-width="0.5">
 <line x1="426" y1="279.5" x2="426" y2="309"/><line x1="435" y1="284.5" x2="435" y2="308"/><line x1="444" y1="281.4" x2="444" y2="309"/><line x1="454" y1="278.3" x2="454" y2="310.8"/>
 <line x1="463" y1="277" x2="463" y2="308"/><line x1="472" y1="277.6" x2="472" y2="309.5"/><line x1="481" y1="281.4" x2="481" y2="308"/><line x1="490" y1="281.4" x2="490" y2="309"/>
</g>
<line x1="422" y1="301.4" x2="492" y2="301.4" stroke="#2a5a9a" stroke-width="1.2"/>
<g stroke="#8db4da" stroke-width="1.2">
 <line x1="519" y1="280" x2="519" y2="313"/><line x1="527" y1="283.8" x2="527" y2="312.5"/><line x1="536" y1="285" x2="536" y2="314"/><line x1="545" y1="283.8" x2="545" y2="313"/>
 <line x1="554" y1="282.5" x2="554" y2="312.5"/><line x1="563" y1="285.7" x2="563" y2="314"/><line x1="572" y1="280.6" x2="572" y2="313"/><line x1="579" y1="280" x2="579" y2="315"/>
</g>
<g stroke="#2a5a9a" stroke-width="0.5">
 <line x1="519" y1="280" x2="519" y2="313"/><line x1="527" y1="283.8" x2="527" y2="312.5"/><line x1="536" y1="285" x2="536" y2="314"/><line x1="545" y1="283.8" x2="545" y2="313"/>
 <line x1="554" y1="282.5" x2="554" y2="312.5"/><line x1="563" y1="285.7" x2="563" y2="314"/><line x1="572" y1="280.6" x2="572" y2="313"/><line x1="579" y1="280" x2="579" y2="315"/>
</g>
<line x1="512" y1="302.9" x2="581" y2="302.9" stroke="#1f4c8c" stroke-width="1.8"/>
<g stroke="#dc9a9a" stroke-width="1.2">
 <line x1="337" y1="350.5" x2="337" y2="370.9"/><line x1="345" y1="350.5" x2="345" y2="369.2"/><line x1="354" y1="349.6" x2="354" y2="370"/><line x1="363" y1="347.9" x2="363" y2="370.9"/>
 <line x1="372" y1="347" x2="372" y2="375.1"/><line x1="380" y1="350.5" x2="380" y2="369.2"/><line x1="388" y1="352.1" x2="388" y2="368.3"/><line x1="397" y1="352.1" x2="397" y2="370"/>
</g>
<g stroke="#a82828" stroke-width="0.5">
 <line x1="337" y1="350.5" x2="337" y2="370.9"/><line x1="345" y1="350.5" x2="345" y2="369.2"/><line x1="354" y1="349.6" x2="354" y2="370"/><line x1="363" y1="347.9" x2="363" y2="370.9"/>
 <line x1="372" y1="347" x2="372" y2="375.1"/><line x1="380" y1="350.5" x2="380" y2="369.2"/><line x1="388" y1="352.1" x2="388" y2="368.3"/><line x1="397" y1="352.1" x2="397" y2="370"/>
</g>
<line x1="334" y1="361.5" x2="402" y2="361.5" stroke="#a82828" stroke-width="1"/>
<g stroke="#dc9a9a" stroke-width="1.2">
 <line x1="426" y1="349.6" x2="426" y2="375.1"/><line x1="435" y1="348.8" x2="435" y2="376"/><line x1="443" y1="347.9" x2="443" y2="371.7"/><line x1="452" y1="345.4" x2="452" y2="371.7"/>
 <line x1="460" y1="348.8" x2="460" y2="371.7"/><line x1="468" y1="349.6" x2="468" y2="370"/><line x1="477" y1="347" x2="477" y2="369.2"/><line x1="486" y1="346.2" x2="486" y2="370.9"/>
</g>
<g stroke="#a82828" stroke-width="0.5">
 <line x1="426" y1="349.6" x2="426" y2="375.1"/><line x1="435" y1="348.8" x2="435" y2="376"/><line x1="443" y1="347.9" x2="443" y2="371.7"/><line x1="452" y1="345.4" x2="452" y2="371.7"/>
 <line x1="460" y1="348.8" x2="460" y2="371.7"/><line x1="468" y1="349.6" x2="468" y2="370"/><line x1="477" y1="347" x2="477" y2="369.2"/><line x1="486" y1="346.2" x2="486" y2="370.9"/>
</g>
<line x1="422" y1="361.5" x2="492" y2="361.5" stroke="#a82828" stroke-width="1"/>
<g stroke="#dc9a9a" stroke-width="1.2">
 <line x1="514" y1="347.3" x2="514" y2="374.8"/><line x1="523" y1="346.5" x2="523" y2="372.3"/><line x1="532" y1="348.2" x2="532" y2="374"/><line x1="541" y1="346.5" x2="541" y2="373.2"/>
 <line x1="550" y1="347.3" x2="550" y2="371.5"/><line x1="558" y1="348.2" x2="558" y2="373.2"/><line x1="568" y1="350.7" x2="568" y2="374"/><line x1="577" y1="348.2" x2="577" y2="380.7"/>
</g>
<g stroke="#a82828" stroke-width="0.5">
 <line x1="514" y1="347.3" x2="514" y2="374.8"/><line x1="523" y1="346.5" x2="523" y2="372.3"/><line x1="532" y1="348.2" x2="532" y2="374"/><line x1="541" y1="346.5" x2="541" y2="373.2"/>
 <line x1="550" y1="347.3" x2="550" y2="371.5"/><line x1="558" y1="348.2" x2="558" y2="373.2"/><line x1="568" y1="350.7" x2="568" y2="374"/><line x1="577" y1="348.2" x2="577" y2="380.7"/>
</g>
<line x1="512" y1="364" x2="581" y2="364" stroke="#a82828" stroke-width="1"/>
<g font-family="Liberation Serif, serif" font-size="10" text-anchor="middle">
 <text x="372" y="404">Time (s)</text><text x="455" y="404">Time (s)</text><text x="546" y="405">Time (s)</text>
</g>
<text transform="translate(321,298) rotate(-90)" font-family="Liberation Serif, serif" font-size="8.5" text-anchor="middle">Voltage (V)</text>
<text transform="translate(321,361) rotate(-90)" font-family="Liberation Serif, serif" font-size="8.5" text-anchor="middle">Current (nA)</text>
</svg>
</body></html>
